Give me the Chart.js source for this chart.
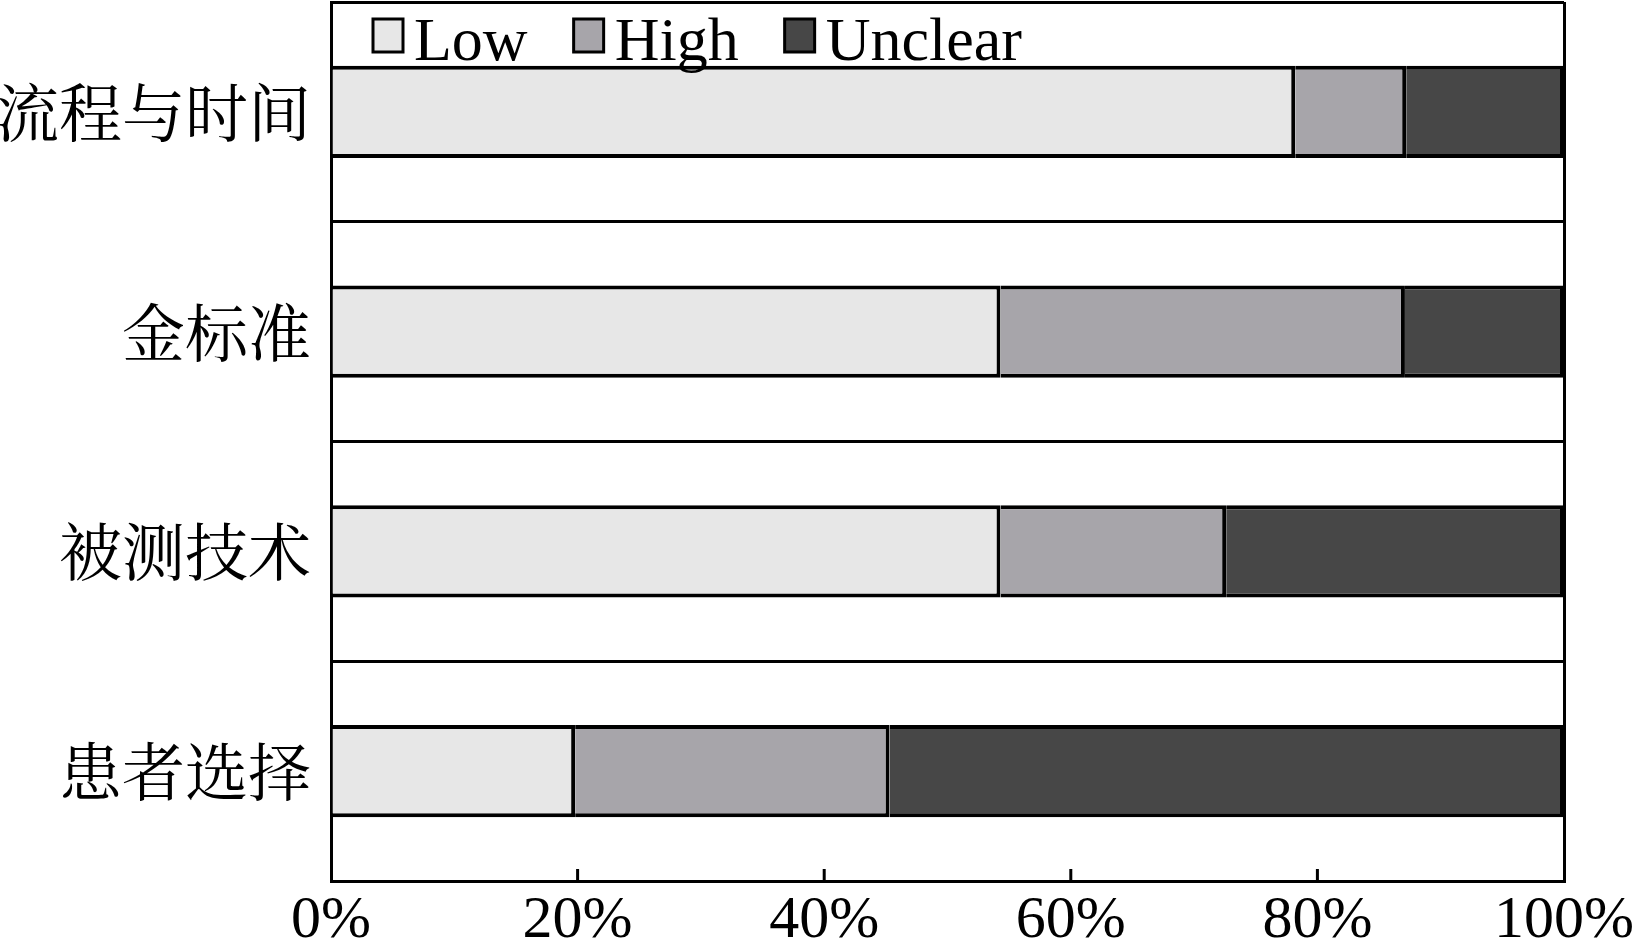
<!DOCTYPE html>
<html>
<head>
<meta charset="utf-8">
<script src="https://cdn.jsdelivr.net/npm/chart.js@4.4.1/dist/chart.umd.min.js"></script>
<style>
  html, body { margin: 0; padding: 0; background: #fff; }
  #wrap { width: 1645px; height: 944px; position: relative; }
</style>
</head>
<body>
<div id="wrap"><canvas id="riskChart"></canvas></div>
<script>
// categories top to bottom
const categories = ['流程与时间', '金标准', '被测技术', '患者选择'];
// percentages
const lowValues = [78.2, 54.3, 54.3, 19.8];
const highValues = [9.0, 32.8, 18.3, 25.5];
const unclearValues = [12.8, 12.9, 27.4, 54.7];
const xTickValues = [0, 20, 40, 60, 80, 100];

const serif = '"Liberation Serif", "Times New Roman", serif';
const cjk = '"Noto Serif CJK SC", "Noto Sans CJK SC", sans-serif';

// legend drawn inside the top band of the plot
const insideLegend = {
  id: 'insideLegend',
  afterDraw(chart) {
    const ctx = chart.ctx;
    const area = chart.chartArea;
    ctx.save();
    ctx.font = '62px ' + serif;
    ctx.textBaseline = 'alphabetic';
    let x = area.left + 42;
    chart.data.datasets.forEach(ds => {
      ctx.fillStyle = ds.backgroundColor;
      ctx.strokeStyle = '#000';
      ctx.lineWidth = 3;
      ctx.fillRect(x, 19, 30, 33);
      ctx.strokeRect(x, 19, 30, 33);
      ctx.fillStyle = '#000';
      ctx.fillText(ds.label, x + 41, 60);
      x += 41 + ctx.measureText(ds.label).width + 46;
    });
    ctx.restore();
  }
};

// small tick marks pointing up into the plot
const innerTicks = {
  id: 'innerTicks',
  afterDatasetsDraw(chart) {
    const ctx = chart.ctx;
    const xs = chart.scales.x;
    const bottom = chart.chartArea.bottom;
    ctx.save();
    ctx.strokeStyle = '#000';
    ctx.lineWidth = 3;
    xs.ticks.forEach(t => {
      if (t.value === 0 || t.value === 100) return;
      const px = xs.getPixelForValue(t.value);
      ctx.beginPath();
      ctx.moveTo(px, bottom);
      ctx.lineTo(px, bottom - 12);
      ctx.stroke();
    });
    ctx.restore();
  }
};

const barStyle = { borderColor: '#000', borderWidth: 4, categoryPercentage: 1, barPercentage: 0.42 };

new Chart(document.getElementById('riskChart').getContext('2d'), {
  type: 'bar',
  data: {
    labels: categories,
    datasets: [
      Object.assign({ label: 'Low', data: lowValues, backgroundColor: '#e7e7e7' }, barStyle),
      Object.assign({ label: 'High', data: highValues, backgroundColor: '#a7a5aa' }, barStyle),
      Object.assign({ label: 'Unclear', data: unclearValues, backgroundColor: '#474747' }, barStyle)
    ]
  },
  options: {
    indexAxis: 'y',
    responsive: true,
    maintainAspectRatio: false,
    animation: false,
    layout: { padding: { top: 2, right: 81, left: 0, bottom: 0 } },
    plugins: { legend: { display: false }, tooltip: { enabled: false } },
    scales: {
      x: {
        stacked: true,
        min: 0,
        max: 100,
        afterBuildTicks: s => { s.ticks = xTickValues.map(v => ({ value: v })); },
        afterFit: s => { s.height = 63; },
        border: { display: true, color: '#000', width: 3 },
        grid: {
          drawTicks: false,
          lineWidth: 3,
          color: c => (c.tick && c.tick.value === 100) ? '#000' : 'rgba(0,0,0,0)'
        },
        ticks: {
          padding: 4,
          color: '#000',
          font: { family: serif, size: 60 },
          maxRotation: 0,
          callback: v => v + '%'
        }
      },
      y: {
        stacked: true,
        afterFit: s => { s.width = 331; s.paddingTop = 0; s.paddingBottom = 0; },
        border: { display: true, color: '#000', width: 3 },
        grid: { drawTicks: false, lineWidth: 3, color: '#000', offset: true },
        ticks: {
          padding: 20,
          color: '#000',
          font: { family: cjk, size: 63 }
        }
      }
    }
  },
  plugins: [insideLegend, innerTicks]
});
</script>
</body>
</html>
